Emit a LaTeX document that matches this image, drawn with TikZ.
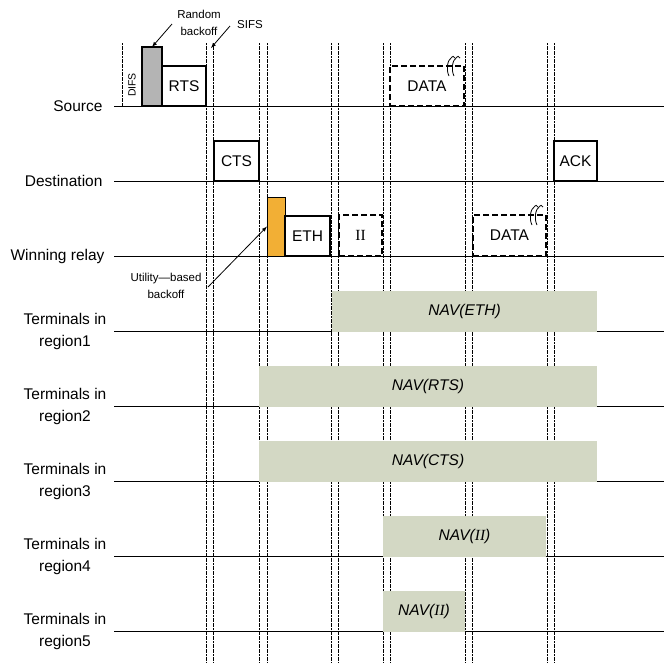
\documentclass[tikz,border=0pt]{standalone}
\usepackage{fontspec}
\setmainfont{Liberation Sans}
\newfontfamily\romanii{Liberation Serif}
\definecolor{backoffgray}{HTML}{B4B4B4}
\definecolor{utilorange}{HTML}{F2AF35}
\definecolor{navgreen}{HTML}{D3D8C4}
\tikzset{
  tline/.style={line width=1pt},
  slot/.style={line width=0.9pt,dash pattern=on 2pt off 0.6pt},
  frame/.style={draw,line width=1.2pt,fill=white,inner sep=0pt,outer sep=0pt,anchor=south west,font=\fontsize{15.5}{18}\selectfont},
  dashframe/.style={frame,line width=1.8pt,dash pattern=on 6pt off 3pt},
  navbox/.style={fill=navgreen,inner sep=0pt,outer sep=0pt,anchor=south west,minimum height=41pt,font=\fontsize{15.5}{18}\selectfont\itshape},
  lbl/.style={font=\fontsize{15.5}{22}\selectfont,align=center},
  note/.style={font=\fontsize{11.5}{17}\selectfont,align=center},
}
\begin{document}
\begin{tikzpicture}[x=1pt,y=-1pt,>=latex]
  \useasboundingbox (0,0) rectangle (664,662);
  %time lines
  \draw[tline] (114,106) -- (664,106);
  \draw[tline] (114,181) -- (664,181);
  \draw[tline] (114,256) -- (664,256);
  \draw[tline] (114,331) -- (664,331);
  \draw[tline] (114,406) -- (664,406);
  \draw[tline] (114,481) -- (664,481);
  \draw[tline] (114,556) -- (664,556);
  \draw[tline] (114,631) -- (664,631);
  %slot boundaries
  \draw[slot] (122,43) -- (122,106);
  \draw[slot] (206,43) -- (206,662);
  \draw[slot] (213,43) -- (213,662);
  \draw[slot] (259,43) -- (259,662);
  \draw[slot] (267,43) -- (267,662);
  \draw[slot] (331,43) -- (331,662);
  \draw[slot] (338,43) -- (338,662);
  \draw[slot] (383,43) -- (383,662);
  \draw[slot] (390,43) -- (390,662);
  \draw[slot] (465,43) -- (465,662);
  \draw[slot] (472,43) -- (472,662);
  \draw[slot] (547,43) -- (547,662);
  \draw[slot] (554,43) -- (554,662);
  %source
  \node[frame,fill=backoffgray,line width=1.6pt,minimum width=20pt,minimum height=59pt] (backoff) at (142,106) {};
  \node[frame,minimum width=44pt,minimum height=40pt] (rts) at (162,106) {RTS};
  \node[dashframe,minimum width=74pt,minimum height=40pt] (srcdata) at (390,106) {DATA};
  \draw[line width=0.8pt] (449,76) .. controls (446,70) and (447,60) .. (452,57) .. controls (453,56) .. (455,58);
  \draw[line width=0.8pt] (454,76) .. controls (451,70) and (452,60) .. (457,57) .. controls (458,56) .. (460,58);
  \node[note,rotate=90,font=\fontsize{10.5}{12}\selectfont] (difs) at (132,85) {DIFS};
  %destination
  \node[frame,minimum width=45pt,minimum height=40pt] (cts) at (214,181) {CTS};
  \node[frame,minimum width=43pt,minimum height=40pt] (ack) at (554,181) {ACK};
  %winning relay
  \node[frame,fill=utilorange,line width=1pt,minimum width=18pt,minimum height=59pt] (utility) at (267,256) {};
  \node[frame,minimum width=45pt,minimum height=40pt] (eth) at (285,256) {ETH};
  \node[dashframe,minimum width=43pt,minimum height=41pt] (relayii) at (339,256) {\romanii II};
  \node[dashframe,minimum width=73pt,minimum height=41pt] (relaydata) at (473,256) {DATA};
  \draw[line width=0.8pt] (532,225) .. controls (529,219) and (530,209) .. (535,206) .. controls (536,205) .. (538,207);
  \draw[line width=0.8pt] (537,225) .. controls (534,219) and (535,209) .. (540,206) .. controls (541,205) .. (543,207);
  %NAV
  \node[navbox,minimum width=265pt] (naveth) at (332,331.5) {NAV(ETH)};
  \node[navbox,minimum width=338pt] (navrts) at (259,406.5) {NAV(RTS)};
  \node[navbox,minimum width=338pt] (navcts) at (259,481.5) {NAV(CTS)};
  \node[navbox,minimum width=163pt] (navii) at (383,556.5) {NAV({\romanii\itshape II})};
  \node[navbox,minimum width=82pt] (naviib) at (383,631.5) {NAV({\romanii\itshape II})};
  %labels
  \node[lbl,anchor=east] (source) at (106,106) {Source};
  \node[lbl,anchor=east] (dest) at (106,181) {Destination};
  \node[lbl,anchor=east] (relay) at (108,256) {Winning relay};
  \node[lbl] (region1) at (65,331) {Terminals in\\region1};
  \node[lbl] (region2) at (65,406) {Terminals in\\region2};
  \node[lbl] (region3) at (65,481) {Terminals in\\region3};
  \node[lbl] (region4) at (65,556) {Terminals in\\region4};
  \node[lbl] (region5) at (65,631) {Terminals in\\region5};
  %description
  \node[note] (random) at (199,23) {Random\\backoff};
  \node[note] (sifs) at (250,25) {SIFS};
  \node[note] (ubased) at (166,286) {Utility---based\\backoff};
  \coordinate (randomtail) at (172,24);
  \coordinate (sifstail) at (230,26);
  \coordinate (sifshead) at (211,48);
  \coordinate (ubasedtail) at (208,287);
  \draw[->,line width=0.8pt] (randomtail) -- (backoff.north);
  \draw[->,line width=0.8pt] (sifstail) -- (sifshead);
  \draw[->,line width=0.8pt] (ubasedtail) -- (utility.west);
\end{tikzpicture}
\end{document}
